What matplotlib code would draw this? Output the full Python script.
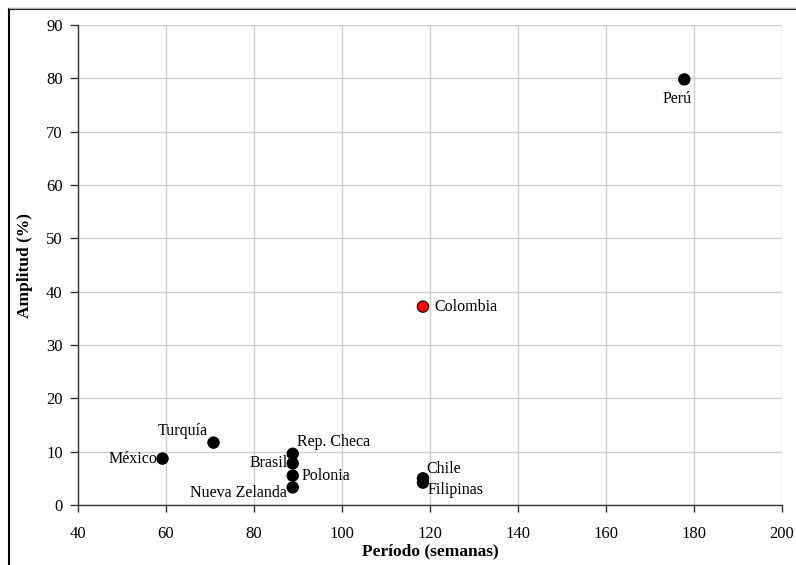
import matplotlib.pyplot as plt
from matplotlib.lines import Line2D

plt.rcParams['font.family'] = ['Liberation Serif', 'DejaVu Serif']

paises = ['Perú', 'Colombia', 'Turquía', 'México', 'Rep. Checa', 'Brasil',
          'Polonia', 'Nueva Zelanda', 'Chile', 'Filipinas']
periodo = [177.8, 118.4, 70.8, 59.2, 88.8, 88.8, 88.8, 88.8, 118.4, 118.4]
amplitud = [79.8, 37.2, 11.7, 8.7, 9.6, 7.8, 5.5, 3.3, 5.0, 4.2]
colores = ['black', 'red', 'black', 'black', 'black', 'black',
           'black', 'black', 'black', 'black']

# desplazamiento de cada etiqueta (px) y alineacion horizontal
etiquetas = {
    'Perú': ((-7, -20), 'center'),
    'Colombia': ((11, 0), 'left'),
    'Turquía': ((-6, 12), 'right'),
    'México': ((-5, 0), 'right'),
    'Rep. Checa': ((4, 12), 'left'),
    'Brasil': ((-5, 0), 'right'),
    'Polonia': ((9, 0), 'left'),
    'Nueva Zelanda': ((-6, -6), 'right'),
    'Chile': ((3, 9), 'left'),
    'Filipinas': ((5, -7), 'left'),
}

fig = plt.figure(figsize=(7.96, 5.65), dpi=100)
ax = fig.add_axes([78 / 796, 60 / 565, 704 / 796, 480 / 565])

ax.scatter(periodo, amplitud, s=66, c=colores, edgecolors='black',
           linewidths=0.8, zorder=3)

for p, x, y in zip(paises, periodo, amplitud):
    (dx, dy), ha = etiquetas[p]
    ax.annotate(p, (x, y), xytext=(dx, dy), textcoords='offset pixels',
                ha=ha, va='center', fontsize=11.5, zorder=4)

ax.set_xlim(40, 200)
ax.set_ylim(0, 90)
ax.set_xticks(range(40, 201, 20))
ax.set_yticks(range(0, 91, 10))
ax.grid(True, color='#cfcfcf', linewidth=1)
ax.set_axisbelow(True)

for s in ['top', 'right']:
    ax.spines[s].set_visible(False)
for s in ['left', 'bottom']:
    ax.spines[s].set_color('#333333')
    ax.spines[s].set_linewidth(1)

ax.tick_params(axis='y', direction='out', length=6, width=1, pad=5,
               labelsize=12, color='#333333')
ax.tick_params(axis='x', direction='out', length=5, width=1, pad=10,
               labelsize=12, color='#333333')

ax.set_xlabel('Período (semanas)', fontsize=12.5, fontweight='bold',
              labelpad=1)
ax.set_ylabel('Amplitud (%)', fontsize=12.5, fontweight='bold')
ax.yaxis.set_label_coords(-0.064, 0.5)

# marco exterior del grafico
fig.add_artist(Line2D([9 / 796, 9 / 796], [0, 556 / 565],
                      transform=fig.transFigure, color='black', lw=1.5))
fig.add_artist(Line2D([9 / 796, 1], [556 / 565, 556 / 565],
                      transform=fig.transFigure, color='black', lw=1.5))
fig.add_artist(Line2D([9 / 796, 1], [557.5 / 565, 557.5 / 565],
                      transform=fig.transFigure, color='#b0b0b0', lw=1))

fig.savefig('out.png', dpi=100, facecolor='white')
